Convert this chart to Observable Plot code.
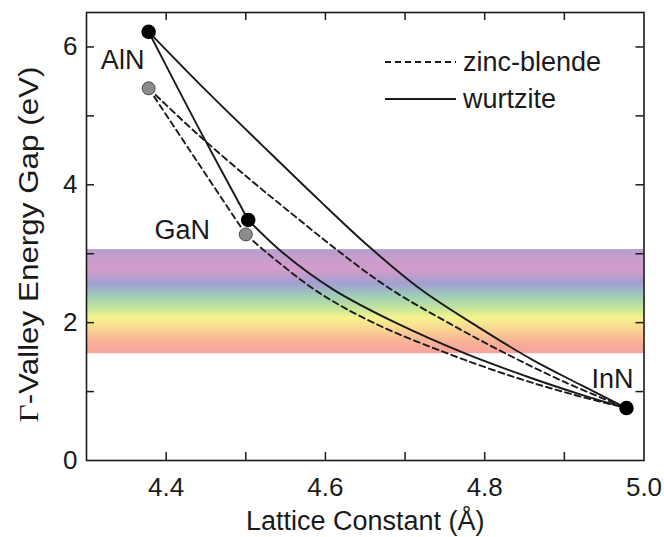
<!DOCTYPE html>
<html>
<head>
<meta charset="utf-8">
<script src="https://cdn.jsdelivr.net/npm/d3@7"></script>
<script src="https://cdn.jsdelivr.net/npm/@observablehq/plot@0.6"></script>
<style>
  body { margin: 0; background: #fff; }
  #chart { position: relative; width: 664px; height: 537px; }
  #chart svg { font-family: "Liberation Sans", Arial, Helvetica, sans-serif; }
</style>
</head>
<body>
<div id="chart"></div>
<script>
// ---- Data ----
// End-point binaries
const wzNames = ["AlN", "GaN", "InN"];
const wzLattice = [4.378, 4.503, 4.978];
const wzGap = [6.22, 3.49, 0.76];
const zbNames = ["AlN", "GaN"];
const zbLattice = [4.378, 4.500];
const zbGap = [5.40, 3.28];

// Wurtzite (solid) alloy curves
const wzAlGaN_a = [4.378, 4.44, 4.503];
const wzAlGaN_e = [6.22, 4.84, 3.49];
const wzGaInN_a = [4.503, 4.548, 4.61, 4.688, 4.776, 4.86, 4.92, 4.978];
const wzGaInN_e = [3.49, 3.00, 2.48, 2.00, 1.55, 1.19, 0.96, 0.76];
const wzAlInN_a = [4.378, 4.45, 4.52, 4.59, 4.655, 4.72, 4.794, 4.86, 4.92, 4.978];
const wzAlInN_e = [6.22, 5.37, 4.58, 3.80, 3.10, 2.48, 1.92, 1.46, 1.10, 0.76];

// Zinc-blende (dashed) alloy curves
const zbAlGaN_a = [4.378, 4.44, 4.500];
const zbAlGaN_e = [5.40, 4.32, 3.28];
const zbGaInN_a = [4.500, 4.528, 4.59, 4.66, 4.754, 4.84, 4.91, 4.978];
const zbGaInN_e = [3.28, 3.00, 2.45, 2.00, 1.55, 1.20, 0.96, 0.76];
const zbAlInN_a = [4.378, 4.437, 4.505, 4.56, 4.615, 4.68, 4.754, 4.825, 4.90, 4.978];
const zbAlInN_e = [5.40, 4.76, 4.08, 3.56, 3.05, 2.50, 2.00, 1.56, 1.14, 0.76];

// Visible-spectrum band
const bandLow = 1.55;
const bandHigh = 3.06;
const spectrumOffsets = [0, 0.10, 0.20, 0.33, 0.45, 0.56, 0.66, 0.78, 0.89, 1];
const spectrumColors = ["#b69fcc", "#c99dcc", "#d39bca", "#a19fd1", "#9fcdb9", "#c2e49b", "#f6f38d", "#f8d393", "#f8b198", "#f7a39b"];

// Axes
const xDomain = [4.3, 5.0];
const yDomain = [0, 6.5];
const xTickLabels = [4.4, 4.6, 4.8, 5.0];
const xTickAll = [4.4, 4.5, 4.6, 4.7, 4.8, 4.9];
const yTickLabels = [0, 2, 4, 6];
const yTickAll = [1, 2, 3, 4, 5, 6];
const xTitle = "Lattice Constant (Å)";
const yTitle = "Γ-Valley Energy Gap (eV)";
const legendLabels = ["zinc-blende", "wurtzite"];

// ---- Build rows ----
function rows(a, e, id) { return a.map((v, i) => ({a: v, e: e[i], id})); }
const solid = [
  ...rows(wzAlGaN_a, wzAlGaN_e, "AlGaN"),
  ...rows(wzGaInN_a, wzGaInN_e, "GaInN"),
  ...rows(wzAlInN_a, wzAlInN_e, "AlInN")
];
const dashed = [
  ...rows(zbAlGaN_a, zbAlGaN_e, "AlGaN"),
  ...rows(zbGaInN_a, zbGaInN_e, "GaInN"),
  ...rows(zbAlInN_a, zbAlInN_e, "AlInN")
];
const wz = wzNames.map((n, i) => ({n, a: wzLattice[i], e: wzGap[i]}));
const zb = zbNames.map((n, i) => ({n, a: zbLattice[i], e: zbGap[i]}));

const W = 664, H = 537;
const mL = 86, mR = 20.5, mT = 12, mB = 77;
const fw = W - mL - mR, fh = H - mT - mB;
const tick = 8;
const ink = "#1a1a1a";
const fs = 27;

const labelMark = (name, dx, dy) =>
  Plot.text(wz.filter(d => d.n === name), {x: "a", y: "e", text: "n", dx, dy, fontSize: fs, fill: ink});

const plot = Plot.plot({
  width: W, height: H,
  marginLeft: mL, marginRight: mR, marginTop: mT, marginBottom: mB,
  x: {domain: xDomain},
  y: {domain: yDomain},
  style: {background: "#fff"},
  marks: [
    Plot.rect([{lo: bandLow, hi: bandHigh}], {y1: "lo", y2: "hi", fill: "url(#spectrum)"}),
    // tick marks (inward, all four sides)
    Plot.ruleX(xTickAll, {stroke: ink, strokeWidth: 1.5, insetTop: fh - tick}),
    Plot.ruleX(xTickAll, {stroke: ink, strokeWidth: 1.5, insetBottom: fh - tick}),
    Plot.ruleY(yTickAll, {stroke: ink, strokeWidth: 1.5, insetRight: fw - tick}),
    Plot.ruleY(yTickAll, {stroke: ink, strokeWidth: 1.5, insetLeft: fw - tick}),
    // tick labels
    Plot.axisX(xTickLabels, {anchor: "bottom", tickSize: 0, tickPadding: 17, fontSize: 26, label: null, tickFormat: d3.format(".1f"), color: ink}),
    Plot.axisY(yTickLabels, {anchor: "left", tickSize: 0, tickPadding: 9, fontSize: 26, label: null, tickFormat: d3.format("d"), color: ink}),
    // titles
    Plot.text([xTitle], {frameAnchor: "bottom", lineAnchor: "middle", textAnchor: "middle", dy: 61, text: d => d, fontSize: fs, fill: ink}),
    Plot.text([yTitle], {frameAnchor: "left", lineAnchor: "middle", textAnchor: "middle", rotate: -90, dx: -57, dy: 8, text: d => d, fontSize: 28, fill: ink}),
    // curves
    Plot.line(dashed, {x: "a", y: "e", z: "id", stroke: ink, strokeWidth: 1.9, strokeDasharray: "6,4", curve: "catmull-rom"}),
    Plot.line(solid, {x: "a", y: "e", z: "id", stroke: ink, strokeWidth: 1.9, curve: "catmull-rom"}),
    // points
    Plot.dot(zb, {x: "a", y: "e", r: 6.5, fill: "#8c8c8c", stroke: "#4a4a4a", strokeWidth: 1}),
    Plot.dot(wz, {x: "a", y: "e", r: 6.5, fill: "#000", stroke: "#000"}),
    // compound labels
    labelMark("AlN", -26, 29),
    labelMark("GaN", -66, 10),
    labelMark("InN", -14, -29),
    Plot.frame({stroke: ink, strokeWidth: 1.6})
  ]
});

// spectrum gradient
const svg = d3.select(plot);
const defs = svg.insert("defs", ":first-child");
const grad = defs.append("linearGradient").attr("id", "spectrum")
  .attr("x1", 0).attr("y1", 0).attr("x2", 0).attr("y2", 1);
spectrumOffsets.forEach((o, i) => grad.append("stop").attr("offset", o).attr("stop-color", spectrumColors[i]));

// Γ in a serif face; title stretched to the reference's length
svg.selectAll("text").each(function() {
  if (this.textContent === yTitle) {
    const t = d3.select(this);
    t.text(null);
    t.attr("textLength", 356).attr("lengthAdjust", "spacingAndGlyphs");
    t.append("tspan").attr("font-family", "'Liberation Serif', 'Times New Roman', serif").text(yTitle.slice(0, 1));
    t.append("tspan").text(yTitle.slice(1));
  }
});

// legend
const lg = svg.append("g").attr("font-size", fs).attr("fill", ink).attr("text-anchor", "start");
const legendY = [62, 99];
const legendDash = ["6,4", null];
legendLabels.forEach((lab, i) => {
  const l = lg.append("line").attr("x1", 385).attr("x2", 456).attr("y1", legendY[i]).attr("y2", legendY[i])
    .attr("stroke", ink).attr("stroke-width", 1.9);
  if (legendDash[i]) l.attr("stroke-dasharray", legendDash[i]);
  lg.append("text").attr("x", 463).attr("y", legendY[i]).attr("dy", "0.35em").attr("text-anchor", "start").text(lab);
});

document.getElementById("chart").appendChild(plot);
</script>
</body>
</html>
